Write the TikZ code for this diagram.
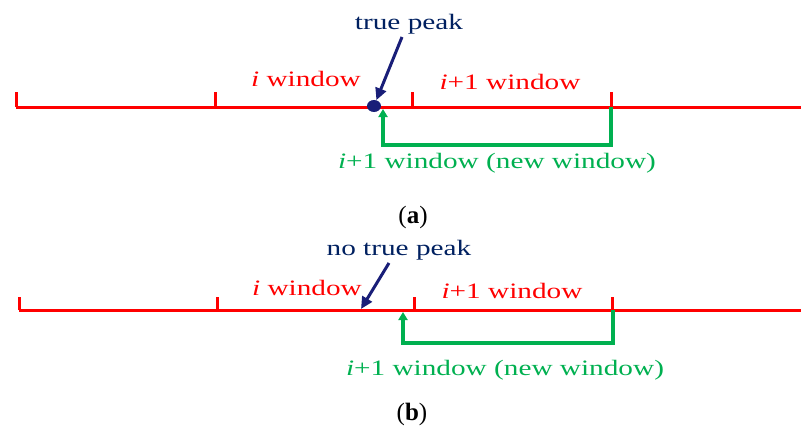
\documentclass[tikz,border=0pt]{standalone}
\usepackage{fontspec}
\setmainfont{Liberation Serif}
\newfontfamily\lab{Liberation Serif}[FakeStretch=1.33]
\usetikzlibrary{arrows.meta,shapes.geometric}
\definecolor{myred}{RGB}{255,0,0}
\definecolor{mygreen}{RGB}{0,176,80}
\definecolor{mynavy}{RGB}{0,32,96}
\definecolor{mydot}{RGB}{25,30,120}
\tikzset{
  axis/.style={draw=myred,line width=3pt},
  tickline/.style={draw=myred,line width=3pt},
  redlab/.style={text=myred,font=\lab\fontsize{22}{24}\selectfont,anchor=base,inner sep=0pt},
  greenlab/.style={text=mygreen,font=\lab\fontsize{22}{24}\selectfont,anchor=base,inner sep=0pt},
  navylab/.style={text=mynavy,font=\lab\fontsize{22}{24}\selectfont,anchor=base,inner sep=0pt},
  caplab/.style={text=black,font=\fontsize{25}{27}\selectfont,anchor=base,inner sep=0pt},
  peakarrow/.style={draw=mydot,line width=3pt,-{Triangle[length=12pt,width=11pt]}},
  newwin/.style={draw=mygreen,line width=3.8pt,-{Triangle[length=8pt,width=9pt]}}
}
\begin{document}
\begin{tikzpicture}[x=1pt,y=-1pt]
\useasboundingbox (0,0) rectangle (801,428);
% ---------- panel (a) ----------
\coordinate (aL) at (16,107);
\coordinate (aR) at (801,107);
\coordinate (at1) at (16,107);
\coordinate (at2) at (215,107);
\coordinate (at3) at (412,107);
\coordinate (at4) at (611,107);
\draw[axis] (aL) -- (aR);
\draw[tickline] (at1) -- ++(0,-15);
\draw[tickline] (at2) -- ++(0,-15);
\draw[tickline] (at3) -- ++(0,-15);
\draw[tickline] (at4) -- ++(0,-15);
\node[fill=mydot,ellipse,minimum width=14pt,minimum height=12pt,inner sep=0pt] (dot) at (374,106) {};
\node[navylab] (tp) at (409,30) {true peak};
\coordinate (tpS) at (402,37);
\draw[peakarrow] (tpS) -- (dot);
\node[redlab] (iw) at (306,87) {\textit{i} window};
\node[redlab] (i1w) at (510,89) {\textit{i}+1 window};
\coordinate (ga1) at (611,107);
\coordinate (ga2) at (611,145);
\coordinate (ga3) at (383,145);
\coordinate (ga4) at (383,109);
\draw[newwin] (ga1) -- (ga2) -- (ga3) -- (ga4);
\node[greenlab] (gw) at (497,168) {\textit{i}+1 window (new window)};
\node[caplab] (capa) at (413,223) {(\textbf{a})};
% ---------- panel (b) ----------
\coordinate (bL) at (19,310);
\coordinate (bR) at (801,310);
\coordinate (bt1) at (19,310);
\coordinate (bt2) at (217,310);
\coordinate (bt3) at (414,310);
\coordinate (bt4) at (612,310);
\draw[axis] (bL) -- (bR);
\draw[tickline] (bt1) -- ++(0,-13);
\draw[tickline] (bt2) -- ++(0,-13);
\draw[tickline] (bt3) -- ++(0,-13);
\draw[tickline] (bt4) -- ++(0,-13);
\node[navylab] (ntp) at (399,255) {no true peak};
\coordinate (ntpS) at (389,263);
\coordinate (ntpE) at (361,309);
\draw[peakarrow] (ntpS) -- (ntpE);
\node[redlab] (biw) at (307,295) {\textit{i} window};
\node[redlab] (bi1w) at (512,298) {\textit{i}+1 window};
\coordinate (gb1) at (613,310);
\coordinate (gb2) at (613,343);
\coordinate (gb3) at (403,343);
\coordinate (gb4) at (403,312);
\draw[newwin] (gb1) -- (gb2) -- (gb3) -- (gb4);
\node[greenlab] (gbw) at (505,375) {\textit{i}+1 window (new window)};
\node[caplab] (capb) at (412,420) {(\textbf{b})};
\end{tikzpicture}
\end{document}
